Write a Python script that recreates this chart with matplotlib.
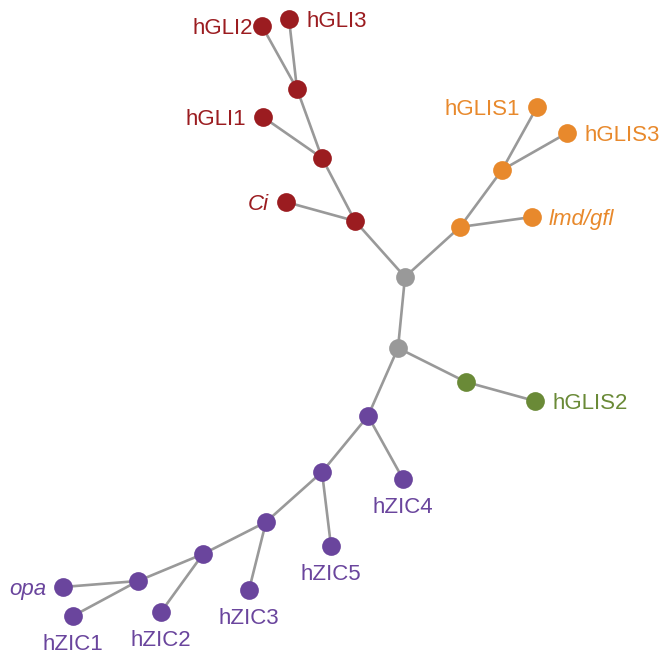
import matplotlib.pyplot as plt

plt.rcParams['font.family'] = ['Liberation Sans', 'DejaVu Sans']

# node positions of the unrooted tree (layout units, y grows downward)
node_names = ['r1', 'r2',
              'g_a', 'g_b', 'g_c', 'hGLI2', 'hGLI3', 'hGLI1', 'Ci',
              's_a', 's_b', 'hGLIS1', 'hGLIS3', 'lmd/gfl',
              'q_a', 'hGLIS2',
              'z_a', 'z_b', 'z_c', 'z_d', 'z_e',
              'hZIC4', 'hZIC5', 'hZIC3', 'hZIC2', 'opa', 'hZIC1']
node_x = [405, 398,
          355, 322, 297, 262, 289, 263, 286,
          460, 502, 537, 567, 532,
          466, 535,
          368, 322, 266, 203, 138,
          403, 331, 249, 161, 63, 73]
node_y = [277, 348,
          221, 158, 89, 26, 19, 117, 202,
          227, 170, 107, 133, 217,
          382, 401,
          416, 472, 522, 554, 581,
          479, 546, 590, 612, 587, 616]
node_group = ['root', 'root',
              'gli', 'gli', 'gli', 'gli', 'gli', 'gli', 'gli',
              'glis', 'glis', 'glis', 'glis', 'glis',
              'glis2', 'glis2',
              'zic', 'zic', 'zic', 'zic', 'zic',
              'zic', 'zic', 'zic', 'zic', 'zic', 'zic']

edges = [('r1', 'r2'), ('r1', 'g_a'), ('r1', 's_a'),
         ('r2', 'q_a'), ('r2', 'z_a'),
         ('g_a', 'Ci'), ('g_a', 'g_b'), ('g_b', 'hGLI1'), ('g_b', 'g_c'),
         ('g_c', 'hGLI2'), ('g_c', 'hGLI3'),
         ('s_a', 'lmd/gfl'), ('s_a', 's_b'), ('s_b', 'hGLIS1'), ('s_b', 'hGLIS3'),
         ('q_a', 'hGLIS2'),
         ('z_a', 'hZIC4'), ('z_a', 'z_b'), ('z_b', 'hZIC5'), ('z_b', 'z_c'),
         ('z_c', 'hZIC3'), ('z_c', 'z_d'), ('z_d', 'hZIC2'), ('z_d', 'z_e'),
         ('z_e', 'opa'), ('z_e', 'hZIC1')]

# leaf labels: (node, side, italic)
labels = [('hGLI2', 'left', False), ('hGLI3', 'right', False),
          ('hGLI1', 'left', False), ('Ci', 'left', True),
          ('hGLIS1', 'left', False), ('hGLIS3', 'right', False),
          ('lmd/gfl', 'right', True), ('hGLIS2', 'right', False),
          ('hZIC4', 'below', False), ('hZIC5', 'below', False),
          ('hZIC3', 'below', False), ('hZIC2', 'below', False),
          ('hZIC1', 'below', False), ('opa', 'left', True)]

colors = {'root': '#999999', 'gli': '#9b1c20', 'glis': '#e8892c',
          'glis2': '#6a8a37', 'zic': '#6a459d'}

pos = {n: (x, y) for n, x, y in zip(node_names, node_x, node_y)}
grp = dict(zip(node_names, node_group))

fig = plt.figure(figsize=(6.67, 6.5), dpi=100)
ax = fig.add_axes([0, 0, 1, 1])
ax.set_xlim(0, 667)
ax.set_ylim(650, 0)
ax.axis('off')

for a, b in edges:
    ax.plot([pos[a][0], pos[b][0]], [pos[a][1], pos[b][1]],
            color='#999999', lw=1.9, zorder=1, solid_capstyle='round')

for n in node_names:
    ax.plot(pos[n][0], pos[n][1], 'o', ms=13.5, color=colors[grp[n]],
            mec='none', zorder=2)

for n, side, ital in labels:
    x, y = pos[n]
    style = 'italic' if ital else 'normal'
    c = colors[grp[n]]
    if side == 'left':
        dx = -9 if n == 'hGLI2' else -17
        ax.text(x + dx, y + 8, n, ha='right', va='baseline', color=c,
                fontsize=16, style=style)
    elif side == 'right':
        ax.text(x + 17, y + 8, n, ha='left', va='baseline', color=c,
                fontsize=16, style=style)
    else:
        ax.text(x, y + 34, n, ha='center', va='baseline', color=c,
                fontsize=16, style=style)

fig.savefig('out.png', dpi=100)
